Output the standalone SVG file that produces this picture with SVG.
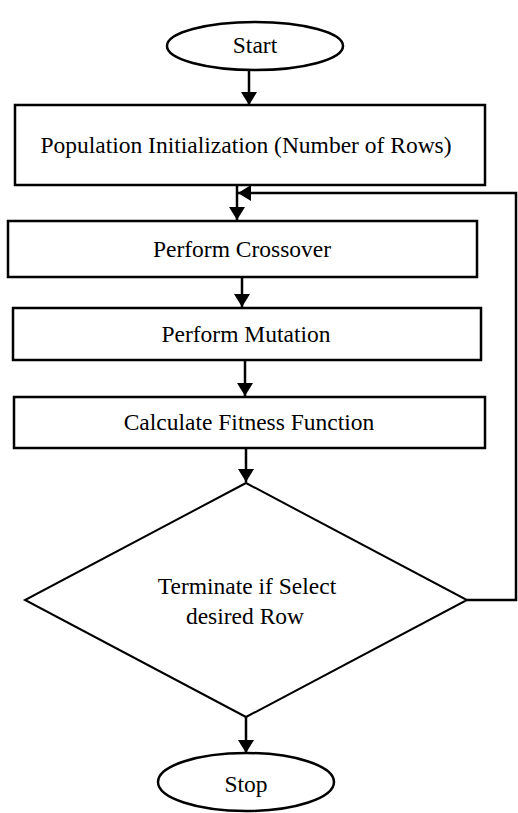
<svg xmlns="http://www.w3.org/2000/svg" width="518" height="813" viewBox="0 0 518 813">
<style>
.shape{fill:#fff;stroke:#000;stroke-width:2.5}
.dia{fill:none;stroke:#000;stroke-width:2}
.lbl{font-family:"Liberation Serif","Times New Roman",serif;font-size:23.5px;fill:#000;text-anchor:middle}
.conn{fill:none;stroke:#000;stroke-width:2.5}
</style>
<defs>
<marker id="ah" markerUnits="userSpaceOnUse" markerWidth="14" markerHeight="18" refX="13" refY="8" orient="auto">
<path d="M0,0 L13,8 L0,16 z" fill="#000"/>
</marker>
</defs>
<rect width="518" height="813" fill="#fff"/>
<g id="start">
<ellipse class="shape" cx="255" cy="46" rx="88" ry="24"/>
<text class="lbl" x="255" y="53">Start</text>
</g>
<g id="init">
<rect class="shape" x="15" y="105" width="470" height="80"/>
<text class="lbl" x="246" y="153">Population Initialization (Number of Rows)</text>
</g>
<g id="crossover">
<rect class="shape" x="8" y="221" width="469" height="56"/>
<text class="lbl" x="242" y="257">Perform Crossover</text>
</g>
<g id="mutation">
<rect class="shape" x="13" y="308" width="468" height="52"/>
<text class="lbl" x="246" y="342">Perform Mutation</text>
</g>
<g id="fitness">
<rect class="shape" x="14" y="397" width="471" height="51"/>
<text class="lbl" x="249" y="430">Calculate Fitness Function</text>
</g>
<g id="decision">
<polygon class="dia" points="246,483 467,600 246,717 25,600"/>
<text class="lbl" x="247" y="594">Terminate if Select</text>
<text class="lbl" x="245" y="624">desired Row</text>
</g>
<g id="stop">
<ellipse class="shape" cx="246" cy="782" rx="88" ry="29"/>
<text class="lbl" x="246" y="792">Stop</text>
</g>
<g id="connectors">
<line class="conn" x1="249" y1="70" x2="249" y2="105" marker-end="url(#ah)"/>
<line class="conn" x1="237" y1="185" x2="237" y2="220" marker-end="url(#ah)"/>
<line class="conn" x1="242" y1="277" x2="242" y2="307" marker-end="url(#ah)"/>
<line class="conn" x1="245" y1="360" x2="245" y2="396" marker-end="url(#ah)"/>
<line class="conn" x1="246" y1="448" x2="246" y2="482" marker-end="url(#ah)"/>
<line class="conn" x1="246" y1="717" x2="246" y2="753" marker-end="url(#ah)"/>
<polyline class="conn" points="467,600 516,600 516,193 238,193" marker-end="url(#ah)"/>
</g>
</svg>
